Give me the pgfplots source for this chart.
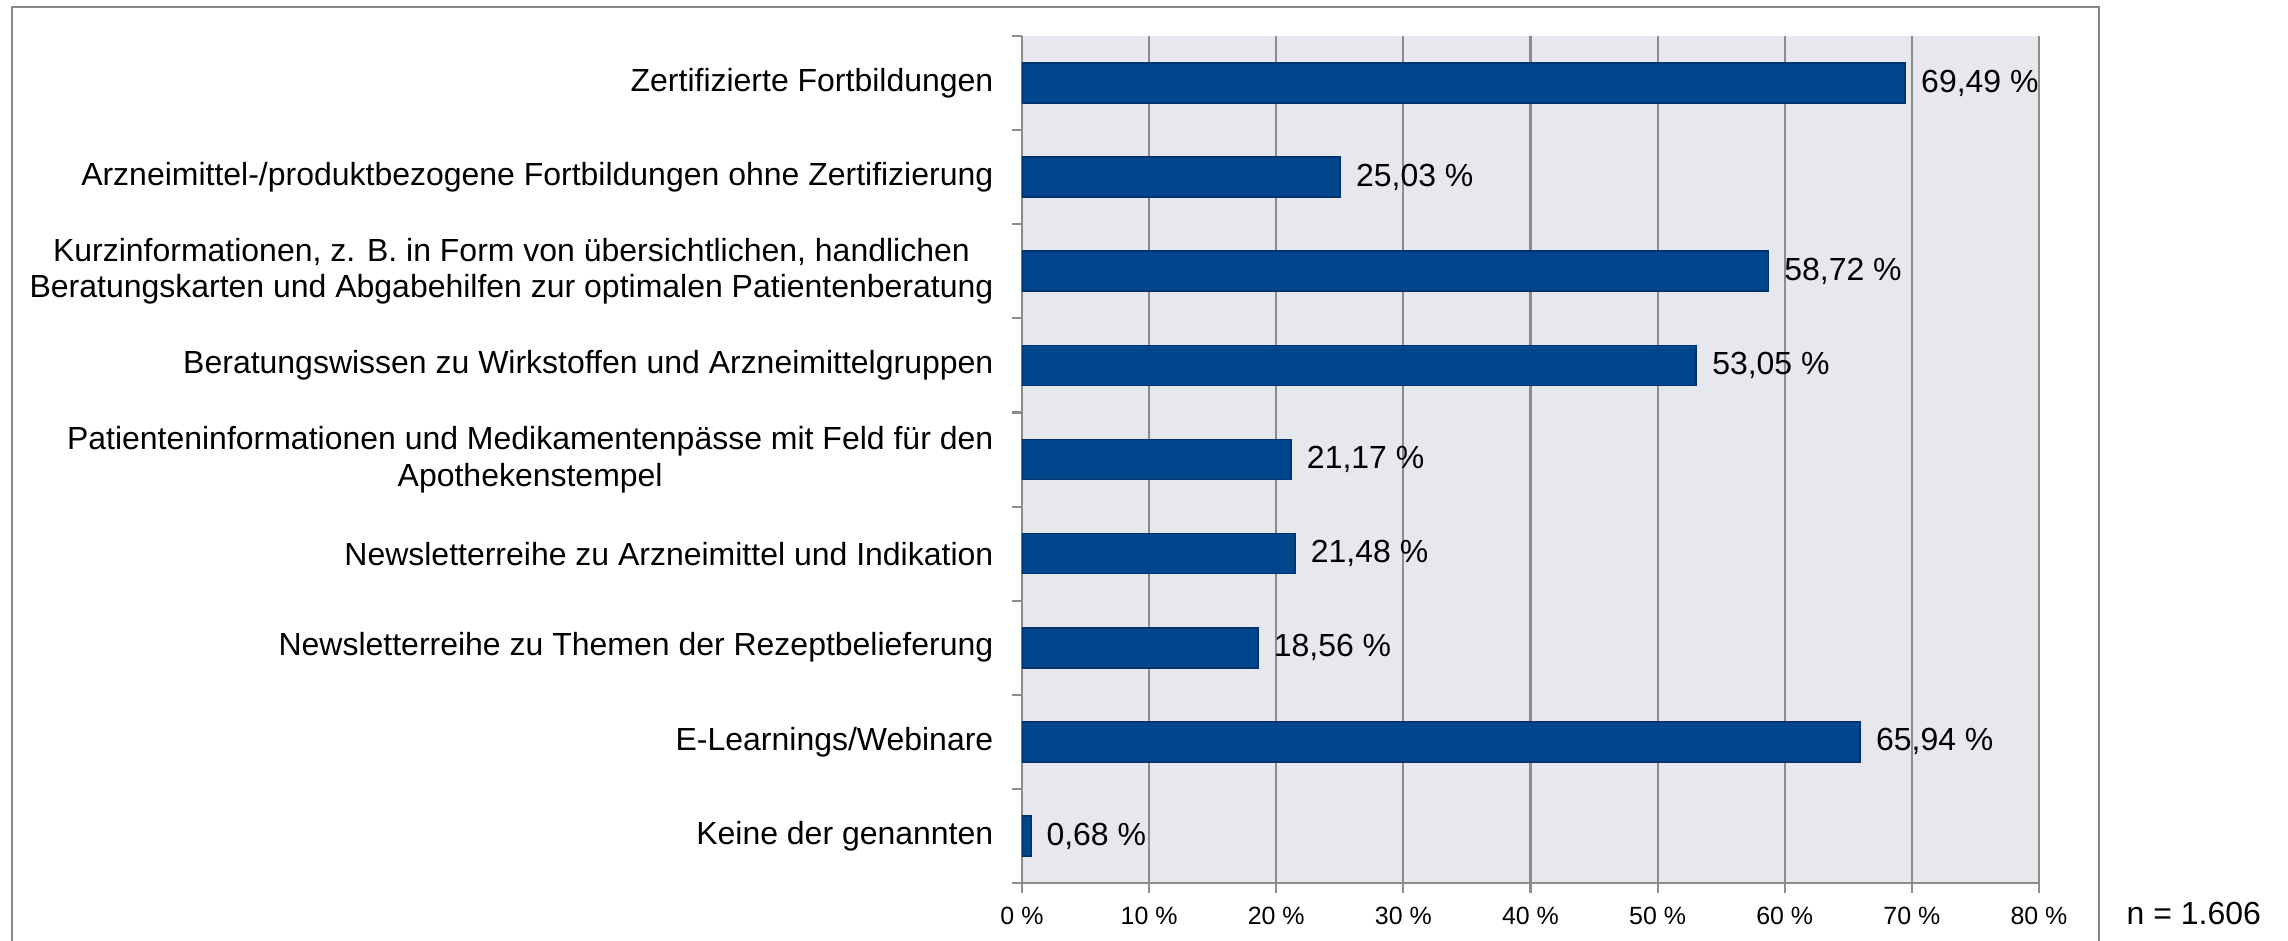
\documentclass[border=0pt]{standalone}
\usepackage{fontspec}
\setmainfont{Liberation Sans}
\usepackage{pgfplots}
\pgfplotsset{compat=1.18}
\definecolor{barblue}{RGB}{0,70,140}
\definecolor{baredge}{RGB}{0,52,112}
\definecolor{plotbg}{RGB}{231,232,237}
\definecolor{gridgray}{RGB}{140,140,140}
\definecolor{framegray}{RGB}{134,134,134}
\begin{document}
\begin{tikzpicture}
\useasboundingbox (0,0) rectangle (22.88,-9.40);
\draw[framegray, line width=0.025cm] (0.12,-9.7) -- (0.12,-0.07) -- (20.99,-0.07) -- (20.99,-9.7);
\begin{axis}[
  at={(10.22cm,-0.36cm)}, anchor=north west,
  scale only axis, width=10.17cm, height=8.47cm,
  xbar, bar width=0.40cm,
  xmin=0, xmax=80, ymin=-0.5, ymax=8.5,
  y dir=reverse,
  axis x line*=bottom, axis y line*=left,
  axis line style={gridgray, line width=0.6pt},
  axis background/.style={fill=plotbg},
  xtick={0,10,...,80},
  xticklabels={0 \%,10 \%,20 \%,30 \%,40 \%,50 \%,60 \%,70 \%,80 \%},
  minor xtick={0,10,...,80},
  ytick={0,...,8},
  yticklabels={
    Zertifizierte Fortbildungen,
    Arzneimittel-/produktbezogene Fortbildungen ohne Zertifizierung,
    {Kurzinformationen, z. B. in Form von übersichtlichen, handlichen\\Beratungskarten und Abgabehilfen zur optimalen Patientenberatung},
    Beratungswissen zu Wirkstoffen und Arzneimittelgruppen,
    {Patienteninformationen und Medikamentenpässe mit Feld für den\\Apothekenstempel},
    Newsletterreihe zu Arzneimittel und Indikation,
    Newsletterreihe zu Themen der Rezeptbelieferung,
    E-Learnings/Webinare,
    Keine der genannten},
  minor ytick={-0.5,0.5,...,8.5},
  major tick length=0pt,
  minor tick length=0.1cm,
  tick align=outside,
  tick style={gridgray, line width=0.6pt},
  xmajorgrids,
  major grid style={gridgray, line width=0.6pt},
  yticklabel style={anchor=east, inner sep=0pt, xshift=-0.28cm, align=center,
    font=\fontsize{9.1}{10.4}\selectfont},
  xticklabel style={anchor=center, inner sep=0pt, yshift=-0.33cm,
    font=\fontsize{7.1}{8.5}\selectfont},
  point meta=x,
  nodes near coords={\pgfmathprintnumber[fixed,fixed zerofill,precision=2,use comma,assume math mode=true]{\pgfplotspointmeta}~\%},
  every node near coord/.append style={anchor=west, inner sep=0pt, xshift=0.15cm,
    font=\fontsize{9.1}{10.4}\selectfont, text=black},
]
\addplot[fill=barblue, draw=baredge, line width=0.5pt] coordinates {
  (69.49,0)
  (25.03,1)
  (58.72,2)
  (53.05,3)
  (21.17,4)
  (21.48,5)
  (18.56,6)
  (65.94,7)
  (0.68,8)
};
\end{axis}
\node[anchor=west, inner sep=0pt, font=\fontsize{9.1}{10.4}\selectfont] at (21.26,-9.13) {n = 1.606};
\end{tikzpicture}
\end{document}
